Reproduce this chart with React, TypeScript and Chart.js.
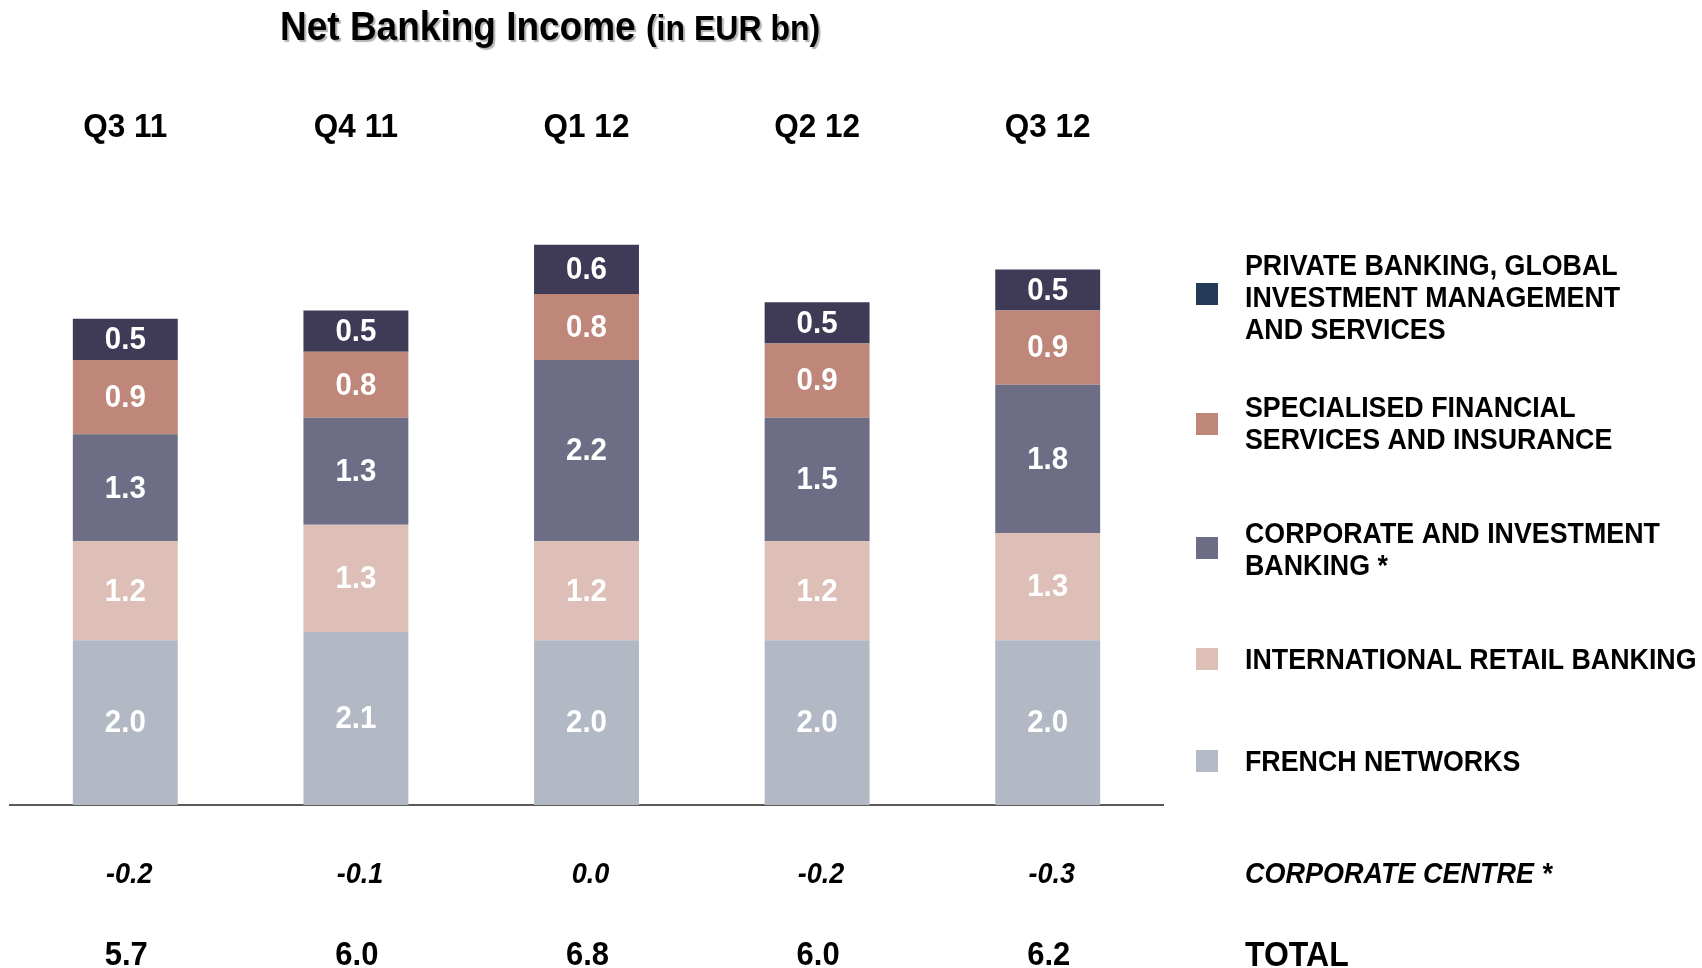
import React, { useEffect, useRef } from 'react';
import { Chart, registerables } from 'chart.js';

Chart.register(...registerables);

// ---- data ----
const categories = ['Q3 11', 'Q4 11', 'Q1 12', 'Q2 12', 'Q3 12'];
const frenchNetworks = [2.0, 2.1, 2.0, 2.0, 2.0];
const internationalRetailBanking = [1.2, 1.3, 1.2, 1.2, 1.3];
const corporateInvestmentBanking = [1.3, 1.3, 2.2, 1.5, 1.8];
const specialisedFinancialServices = [0.9, 0.8, 0.8, 0.9, 0.9];
const privateBankingGIMS = [0.5, 0.5, 0.6, 0.5, 0.5];
const corporateCentre = [-0.2, -0.1, 0.0, -0.2, -0.3];
const totals = [5.7, 6.0, 6.8, 6.0, 6.2];

const legendLabels = [
  ['PRIVATE BANKING, GLOBAL', 'INVESTMENT MANAGEMENT', 'AND SERVICES'],
  ['SPECIALISED FINANCIAL', 'SERVICES AND INSURANCE'],
  ['CORPORATE AND INVESTMENT', 'BANKING *'],
  ['INTERNATIONAL RETAIL BANKING'],
  ['FRENCH NETWORKS'],
];
const legendColors = ['#243B58', '#BF867A', '#6C6C85', '#DDBFB7', '#B3BAC5'];

const FONT = '"Liberation Sans", Arial, Helvetica, sans-serif';
const STRETCH = 1.08;

function drawText(ctx: CanvasRenderingContext2D, text: string, x: number, y: number) {
  ctx.save();
  ctx.translate(x, y);
  ctx.scale(1, STRETCH);
  ctx.fillText(text, 0, 0);
  ctx.restore();
}

export default function App() {
  const ref = useRef<HTMLCanvasElement>(null);

  useEffect(() => {
    const canvas = ref.current;
    if (!canvas) return;

    const overlay = {
      id: 'overlay',
      afterDatasetsDraw(chart: any) {
        const ctx = chart.ctx as CanvasRenderingContext2D;
        ctx.save();
        ctx.fillStyle = '#FFFFFF';
        ctx.font = `bold 29.5px ${FONT}`;
        ctx.textAlign = 'center';
        ctx.textBaseline = 'middle';
        chart.data.datasets.forEach((ds: any, di: number) => {
          const meta = chart.getDatasetMeta(di);
          meta.data.forEach((bar: any, i: number) => {
            const p = bar.getProps(['x', 'y', 'base'], true);
            const v = ds.data[i] as number;
            drawText(ctx, v.toFixed(1), p.x, (p.y + p.base) / 2 + 1);
          });
        });
        ctx.restore();
      },
      afterDraw(chart: any) {
        const ctx = chart.ctx as CanvasRenderingContext2D;
        const xs = chart.scales.x;
        ctx.save();

        // Title
        ctx.fillStyle = '#000';
        ctx.textBaseline = 'alphabetic';
        ctx.textAlign = 'left';
        ctx.shadowColor = 'rgba(0,0,0,0.3)';
        ctx.shadowOffsetX = 2;
        ctx.shadowOffsetY = 2;
        ctx.shadowBlur = 1;
        ctx.font = `bold 37px ${FONT}`;
        const t1 = 'Net Banking Income';
        drawText(ctx, t1, 280, 40);
        const w1 = ctx.measureText(t1 + ' ').width;
        ctx.font = `bold 32px ${FONT}`;
        drawText(ctx, '(in EUR bn)', 280 + w1, 40);
        ctx.shadowColor = 'transparent';
        ctx.shadowOffsetX = 0;
        ctx.shadowOffsetY = 0;
        ctx.shadowBlur = 0;

        // Category headers
        ctx.textAlign = 'center';
        ctx.textBaseline = 'middle';
        ctx.font = `bold 31.5px ${FONT}`;
        categories.forEach((c, i) => {
          drawText(ctx, c, xs.getPixelForValue(i), 128);
        });

        // Corporate centre row
        ctx.font = `italic bold 27px ${FONT}`;
        corporateCentre.forEach((v, i) => {
          drawText(ctx, v.toFixed(1), xs.getPixelForValue(i) + 4, 875);
        });
        // Totals row
        ctx.font = `bold 31px ${FONT}`;
        totals.forEach((v, i) => {
          drawText(ctx, v.toFixed(1), xs.getPixelForValue(i) + 1, 956);
        });

        ctx.textAlign = 'left';
        ctx.font = `italic bold 27px ${FONT}`;
        drawText(ctx, 'CORPORATE CENTRE *', 1245, 875);
        ctx.font = `bold 32px ${FONT}`;
        drawText(ctx, 'TOTAL', 1245, 956);

        // Legend
        const swatchCenters = [294, 424, 548, 659, 761];
        const textCenters = [299, 425, 551, 661, 763];
        const lineH = 32;
        ctx.font = `bold 26.8px ${FONT}`;
        legendLabels.forEach((lines, k) => {
          const cy = swatchCenters[k];
          ctx.fillStyle = legendColors[k];
          ctx.fillRect(1196, cy - 11, 22, 22);
          ctx.fillStyle = '#000';
          const firstY = textCenters[k] - ((lines.length - 1) * lineH) / 2;
          lines.forEach((ln, j) => {
            drawText(ctx, ln, 1245, firstY + j * lineH);
          });
        });

        ctx.restore();
      },
    };

    const chart = new Chart(canvas, {
      type: 'bar',
      data: {
        labels: categories,
        datasets: [
          { label: 'FRENCH NETWORKS', data: frenchNetworks, backgroundColor: '#B3B9C4' },
          { label: 'INTERNATIONAL RETAIL BANKING', data: internationalRetailBanking, backgroundColor: '#DDBFB7' },
          { label: 'CORPORATE AND INVESTMENT BANKING *', data: corporateInvestmentBanking, backgroundColor: '#6D6D86' },
          { label: 'SPECIALISED FINANCIAL SERVICES AND INSURANCE', data: specialisedFinancialServices, backgroundColor: '#BF867A' },
          { label: 'PRIVATE BANKING, GLOBAL INVESTMENT MANAGEMENT AND SERVICES', data: privateBankingGIMS, backgroundColor: '#3F3B57' },
        ],
      },
      options: {
        responsive: false,
        maintainAspectRatio: false,
        devicePixelRatio: 1,
        animation: false,
        layout: { padding: { left: 10, right: 539, top: 187, bottom: 163 } },
        datasets: {
          bar: { barPercentage: 0.455, categoryPercentage: 1, borderWidth: 0 },
        },
        plugins: {
          legend: { display: false },
          title: { display: false },
          tooltip: { enabled: false },
        },
        scales: {
          x: {
            stacked: true,
            grid: { display: false, drawTicks: false },
            ticks: { display: false },
            border: { display: true, color: '#5A5A5A', width: 2 },
          },
          y: {
            stacked: true,
            display: false,
            min: 0,
            max: 7.5,
          },
        },
      },
      plugins: [overlay],
    });

    return () => chart.destroy();
  }, []);

  return (
    <div style={{ position: 'fixed', left: 0, top: 0, width: 1702, height: 968, background: '#FFFFFF' }}>
      <canvas ref={ref} width={1702} height={968} style={{ display: 'block', width: 1702, height: 968 }} />
    </div>
  );
}
